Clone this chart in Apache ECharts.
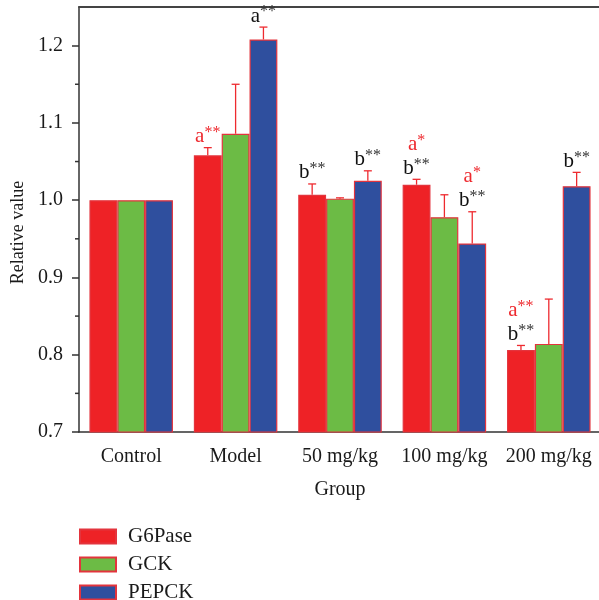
<!DOCTYPE html>
<html>
<head>
<meta charset="utf-8">
<script src="https://cdn.jsdelivr.net/npm/echarts@6/dist/echarts.min.js"></script>
<style>
html,body{margin:0;padding:0;background:#fff;overflow:hidden;}
#chart{width:604px;height:600px;}
</style>
</head>
<body>
<div id="chart"></div>
<script>
const categories = ['Control', 'Model', '50 mg/kg', '100 mg/kg', '200 mg/kg'];
const seriesNames = ['G6Pase', 'GCK', 'PEPCK'];
const g6pase = [1.000, 1.058, 1.007, 1.020, 0.806];
const gck = [1.000, 1.086, 1.002, 0.978, 0.814];
const pepck = [1.000, 1.208, 1.025, 0.944, 1.018];
const g6paseErr = [0, 0.010, 0.014, 0.007, 0.006];
const gckErr = [0, 0.064, 0.001, 0.029, 0.058];
const pepckErr = [0, 0.016, 0.013, 0.041, 0.018];
// significance marks: [letter, stars, colour key], listed top to bottom
const g6paseSig = [[], [['a', '**', 'r']], [['b', '**', 'k']], [['a', '*', 'r'], ['b', '**', 'k']], [['a', '**', 'r'], ['b', '**', 'k']]];
const gckSig = [[], [], [], [], []];
const pepckSig = [[], [['a', '**', 'k']], [['b', '**', 'k']], [['a', '*', 'r'], ['b', '**', 'k']], [['b', '**', 'k']]];
const minorTickValues = [0.75, 0.85, 0.95, 1.05, 1.15];

const values = [g6pase, gck, pepck];
const errs = [g6paseErr, gckErr, pepckErr];
const sigs = [g6paseSig, gckSig, pepckSig];
const colors = ['#ee2226', '#6cbb45', '#2f4f9e'];
const FONT = 'Liberation Serif';
const RED = '#ee2a2f';

const errData = [];
for (let s = 0; s < 3; s++) {
  for (let c = 0; c < categories.length; c++) {
    errData.push([c, values[s][c], errs[s][c], s]);
  }
}

const chart = echarts.init(document.getElementById('chart'));
const axisColor = '#333';
chart.setOption({
  animation: false,
  backgroundColor: '#fff',
  grid: { left: 79, top: 7, width: 522, height: 425, show: false, outerBoundsMode: 'none', containLabel: false },
  legend: {
    data: seriesNames, orient: 'vertical', left: 79, top: 526, height: 120, padding: 0,
    itemWidth: 36, itemHeight: 14, itemGap: 7, icon: 'rect',
    textStyle: { fontFamily: FONT, fontSize: 21, color: '#1a1a1a', padding: [0, 0, 0, 7] }
  },
  xAxis: [{
    type: 'category', data: categories, position: 'bottom',
    axisLine: { lineStyle: { color: axisColor, width: 1.5 } },
    axisTick: { alignWithLabel: true, length: 6, lineStyle: { color: axisColor, width: 1.5 } },
    axisLabel: { interval: 0, fontFamily: FONT, fontSize: 20, color: '#1a1a1a', margin: 15 },
    name: 'Group', nameLocation: 'middle', nameGap: 48,
    nameTextStyle: { fontFamily: FONT, fontSize: 20, color: '#1a1a1a' }
  }, {
    type: 'category', data: categories, position: 'bottom',
    axisLine: { show: false },
    axisTick: { interval: 0, length: 3, lineStyle: { color: axisColor, width: 1.5 } },
    axisLabel: { show: false }
  }, {
    type: 'category', data: categories, position: 'top',
    axisLine: { show: true, lineStyle: { color: '#444', width: 2 } },
    axisTick: { show: false }, axisLabel: { show: false }
  }],
  yAxis: [{
    type: 'value', min: 0.7, max: 1.25, interval: 0.1, position: 'left',
    splitLine: { show: false },
    axisLine: { show: true, lineStyle: { color: axisColor, width: 1.5 } },
    axisTick: { show: true, length: 7, lineStyle: { color: axisColor, width: 1.5 } },
    axisLabel: { fontFamily: FONT, fontSize: 20, color: '#1a1a1a', margin: 16, showMaxLabel: false, formatter: v => v.toFixed(1) },
    name: 'Relative value', nameLocation: 'middle', nameGap: 45,
    nameTextStyle: { fontFamily: FONT, fontSize: 18, color: '#1a1a1a', padding: [0, 26, 0, 0] }
  }],
  series: [
    ...seriesNames.map((n, s) => ({
      name: n, type: 'bar', data: values[s], barGap: '0%', barCategoryGap: '20%',
      itemStyle: { color: colors[s], borderColor: '#e3343d', borderWidth: 1.2 }
    })),
    {
      type: 'custom', name: 'minorTicks', data: minorTickValues.map(v => [0, v]), silent: true,
      renderItem: function (params, api) {
        const p = api.coord([0, api.value(1)]);
        const x0 = params.coordSys.x;
        return { type: 'line', shape: { x1: x0 - 4, y1: p[1], x2: x0, y2: p[1] }, style: { stroke: axisColor, lineWidth: 1.5 } };
      }
    },
    {
      type: 'custom', name: 'err', data: errData, z: 5,
      renderItem: function (params, api) {
        const c = api.value(0), v = api.value(1), e = api.value(2), s = api.value(3);
        const bw = api.size([1, 0])[0] * 0.8 / 3;
        const p0 = api.coord([c, v]);
        const x = p0[0] + (s - 1) * bw;
        const pTop = api.coord([c, v + e]);
        const children = [];
        if (e > 0) {
          children.push({ type: 'line', shape: { x1: x, y1: p0[1], x2: x, y2: pTop[1] }, style: { stroke: RED, lineWidth: 1.3 } });
          children.push({ type: 'line', shape: { x1: x - 4, y1: pTop[1], x2: x + 4, y2: pTop[1] }, style: { stroke: RED, lineWidth: 1.3 } });
        }
        const marks = sigs[s][c];
        if (marks.length) {
          const txt = marks.map(m => '{l' + m[2] + '|' + m[0] + '}{s' + m[2] + '|' + m[1] + '}').join('\n');
          children.push({
            type: 'text', x: x, y: pTop[1] + 1,
            style: {
              text: txt, align: 'center', verticalAlign: 'bottom',
              rich: {
                lr: { fontFamily: FONT, fontSize: 21, lineHeight: 24, fill: RED },
                sr: { fontFamily: FONT, fontSize: 16, lineHeight: 21, verticalAlign: 'top', fill: RED },
                lk: { fontFamily: FONT, fontSize: 21, lineHeight: 24, fill: '#111' },
                sk: { fontFamily: FONT, fontSize: 16, lineHeight: 21, verticalAlign: 'top', fill: '#333' }
              }
            }
          });
        }
        return { type: 'group', children: children };
      }
    }
  ]
});
</script>
</body>
</html>
